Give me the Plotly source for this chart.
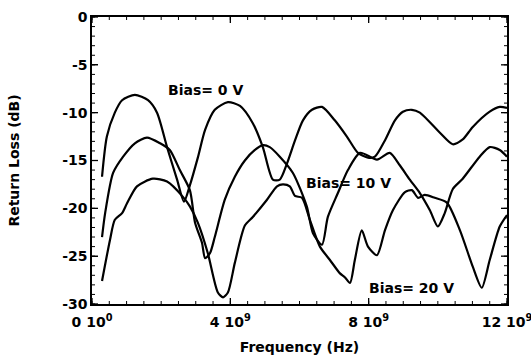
import plotly.graph_objects as go

# Frequency in GHz, return loss in dB
f_0v = [0.29, 0.43, 0.66, 0.87, 1.24, 1.62, 1.88, 2.17, 2.46, 2.66, 2.83, 3.06, 3.27, 3.55,
        3.93, 4.28, 4.65, 4.94, 5.23, 5.43, 5.64, 5.87, 6.10, 6.36, 6.65, 7.02, 7.37, 7.69,
        7.98, 8.18, 8.47, 8.76, 8.99, 9.25, 9.48, 10.06, 10.43, 10.72, 11.01, 11.50, 11.79, 12.0]
rl_0v = [-16.7, -12.5, -10.0, -8.7, -8.15, -8.7, -10.0, -13.6, -17.0, -19.3, -17.6, -14.7, -11.8, -9.7,
         -8.9, -9.3, -11.1, -13.6, -17.0, -17.0, -15.3, -12.9, -10.8, -9.7, -9.4, -10.8, -12.5, -14.2,
         -14.7, -14.6, -12.9, -10.8, -9.9, -9.7, -10.0, -12.1, -13.3, -12.8, -11.5, -9.9, -9.4, -9.5]

f_10v = [0.29, 0.38, 0.61, 0.90, 1.24, 1.59, 1.97, 2.25, 2.54, 2.83, 2.98, 3.18, 3.27, 3.41, 3.55,
         3.84, 4.13, 4.42, 4.71, 4.94, 5.14, 5.43, 5.81, 6.21, 6.39, 6.65, 6.82, 7.11, 7.40, 7.75,
         8.24, 8.61, 8.90, 9.19, 9.48, 9.77, 10.0, 10.20, 10.43, 10.72, 11.21, 11.50, 11.79, 12.0]
rl_10v = [-23.0, -20.5, -16.3, -14.6, -13.2, -12.6, -13.2, -13.9, -16.0, -18.1, -21.5, -23.6, -25.2, -24.7, -23.0,
          -19.1, -16.7, -15.0, -13.9, -13.4, -13.6, -14.6, -16.3, -19.8, -22.6, -23.8, -20.9, -18.4, -16.0, -14.2,
          -14.9, -14.2, -15.5, -17.0, -18.4, -20.2, -21.9, -20.5, -18.0, -16.9, -14.6, -13.6, -13.9, -14.6]

f_20v = [0.29, 0.52, 0.66, 0.87, 1.01, 1.30, 1.76, 2.17, 2.63, 2.83, 3.06, 3.35, 3.64, 3.79, 3.93,
         4.13, 4.42, 4.65, 5.06, 5.35, 5.52, 5.72, 5.87, 6.07, 6.30, 6.59, 6.88, 7.17, 7.31, 7.46,
         7.60, 7.80, 7.98, 8.24, 8.47, 8.70, 9.05, 9.25, 9.43, 9.62, 9.91, 10.26, 10.64, 11.01,
         11.27, 11.50, 11.79, 12.0]
rl_20v = [-27.6, -23.3, -21.2, -20.5, -19.5, -17.7, -16.9, -17.2, -18.8, -19.8, -21.5, -24.7, -28.8, -29.3, -28.8,
          -25.7, -21.8, -20.9, -19.1, -17.7, -17.5, -17.7, -18.7, -18.9, -21.2, -24.0, -25.4, -26.8, -27.2, -27.8,
          -25.4, -22.3, -24.0, -24.9, -22.3, -20.2, -18.3, -18.1, -18.9, -18.6, -18.9, -19.4, -22.3, -26.1,
          -28.3, -25.4, -21.9, -20.7]

labels = ["Bias= 0 V", "Bias= 10 V", "Bias= 20 V"]
label_f = [3.28, 7.41, 9.25]
label_rl = [-7.6, -17.35, -28.3]

x_tickvals = [0, 4e9, 8e9, 12e9]
x_ticktext = ["0 10<sup>0</sup>", "4 10<sup>9</sup>", "8 10<sup>9</sup>", "12 10<sup>9</sup>"]
x_minor = [i * 0.5e9 for i in range(25)]
y_tickvals = [0, -5, -10, -15, -20, -25, -30]
y_ticktext = ["0", "-5", "-10", "-15", "-20", "-25", "-30"]
y_minor = [-i for i in range(31)]

X_RANGE = [0, 12e9]
Y_RANGE = [-30, 0]
MAJOR_LEN, MINOR_LEN = 6, 3

font = dict(family="DejaVu Sans", size=14, color="black", weight="bold")

fig = go.Figure()
for f, rl in [(f_0v, rl_0v), (f_10v, rl_10v), (f_20v, rl_20v)]:
    fig.add_trace(go.Scatter(x=[v * 1e9 for v in f], y=rl, mode="lines",
                             line=dict(color="black", width=2.2, shape="spline", smoothing=0.7),
                             showlegend=False))

for t, fx, ry in zip(labels, label_f, label_rl):
    fig.add_annotation(x=fx * 1e9, y=ry, text=t, showarrow=False, font=font,
                       xanchor="center", yanchor="middle")

# Tick marks on all four sides, placed through the axes' own scales (pixel lengths)
def x_ticks(vals, length, width):
    for v in vals:
        for anchor, sign in [(Y_RANGE[0], 1), (Y_RANGE[1], -1)]:
            fig.add_shape(type="line", xref="x", yref="y", x0=v, x1=v,
                          ysizemode="pixel", yanchor=anchor, y0=0, y1=sign * length,
                          line=dict(color="black", width=width), layer="above")

def y_ticks(vals, length, width):
    for v in vals:
        for anchor, sign in [(X_RANGE[0], 1), (X_RANGE[1], -1)]:
            fig.add_shape(type="line", xref="x", yref="y", y0=v, y1=v,
                          xsizemode="pixel", xanchor=anchor, x0=0, x1=sign * length,
                          line=dict(color="black", width=width), layer="above")

x_ticks(x_minor, MINOR_LEN, 1)
x_ticks(x_tickvals, MAJOR_LEN, 1.3)
y_ticks(y_minor, MINOR_LEN, 1)
y_ticks(y_tickvals, MAJOR_LEN, 1.3)

axis_common = dict(showline=True, linecolor="black", linewidth=1.5, mirror=True,
                   ticks="inside", ticklen=MAJOR_LEN, tickwidth=1.3, tickcolor="black",
                   showgrid=False, zeroline=False, tickfont=font, tickmode="array",
                   automargin=False, ticklabeloverflow="allow")

fig.update_layout(
    width=531, height=358, margin=dict(l=92, r=24, t=17, b=54),
    paper_bgcolor="white", plot_bgcolor="white",
    xaxis=dict(range=X_RANGE, tickvals=x_tickvals, ticktext=x_ticktext, ticklabelstandoff=4,
               title=dict(text="Frequency (Hz)", font=font, standoff=14), **axis_common),
    yaxis=dict(range=Y_RANGE, tickvals=y_tickvals, ticktext=y_ticktext,
               title=dict(text="Return Loss (dB)", font=font, standoff=39), **axis_common),
)

fig.write_html("out.html")
